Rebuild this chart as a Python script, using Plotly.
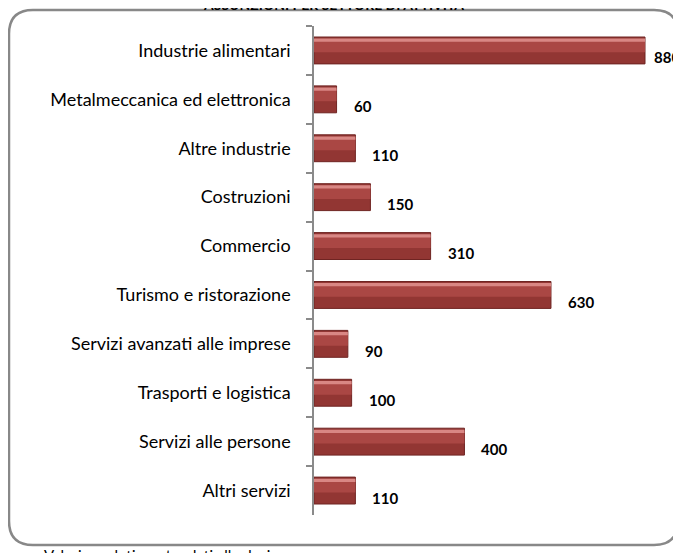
import plotly.graph_objects as go

categories = [
    "Industrie alimentari",
    "Metalmeccanica ed elettronica",
    "Altre industrie",
    "Costruzioni",
    "Commercio",
    "Turismo e ristorazione",
    "Servizi avanzati alle imprese",
    "Trasporti e logistica",
    "Servizi alle persone",
    "Altri servizi",
]
values = [880, 60, 110, 150, 310, 630, 90, 100, 400, 110]
title_text = "ASSUNZIONI PER SETTORE DI ATTIVITÀ"
note_text = "Valori assoluti arrotondati alle decine"

# the page body has an 8px margin, so the figure is laid out in (page - 8) pixels
W, H = 673, 545
ML, MR, MT, MB = 306, 21, 18, 38
pw, ph = W - ML - MR, H - MT - MB
FONT = "Lato, Open Sans, sans-serif"
SCALE = 331 / 880  # px per unit


def px_x(x):
    return (x - ML) / pw


def px_y(y):
    return (H - MB - y) / ph


fig = go.Figure()
bw = 0.55
fig.add_trace(go.Bar(
    y=categories, x=values, orientation="h", width=bw, offset=-bw / 2,
    marker=dict(color="#923633", line=dict(color="#6f2422", width=1)),
    hoverinfo="x+y",
))
fig.add_trace(go.Bar(
    y=categories, x=values, orientation="h", width=bw * 0.45, offset=-bw / 2 + bw * 0.12,
    marker=dict(color="#aa4744", line=dict(width=0)),
    hoverinfo="skip",
))
fig.add_trace(go.Bar(
    y=categories, x=values, orientation="h", width=bw * 0.12, offset=-bw / 2 + bw * 0.06,
    marker=dict(color="#d98784", line=dict(width=0)),
    hoverinfo="skip",
))

annotations = []
for c, v in zip(categories, values):
    bar_end = ML + v * SCALE
    shift = min(15, 672 - 28 - bar_end)
    annotations.append(dict(
        x=v, y=c, xref="x", yref="y", text=f"<b>{v}</b>", showarrow=False,
        xanchor="left", yanchor="middle", xshift=shift, yshift=-7,
        font=dict(family=FONT, size=15, color="#000000"),
    ))
annotations.append(dict(
    x=px_x(325), y=px_y(7), xref="paper", yref="paper", text=f"<b>{title_text}</b>",
    showarrow=False, xanchor="center", yanchor="bottom",
    font=dict(family=FONT, size=14, color="#000000"),
))
annotations.append(dict(
    x=px_x(34), y=px_y(536), xref="paper", yref="paper", text=note_text,
    showarrow=False, xanchor="left", yanchor="top",
    font=dict(family=FONT, size=15, color="#000000"),
))

x0, x1, y0, y1 = px_x(1), px_x(670), px_y(537), px_y(2)
rx, ry = 24 / pw, 24 / ph
path = (
    f"M {x0 + rx},{y1} L {x1 - rx},{y1} Q {x1},{y1} {x1},{y1 - ry} "
    f"L {x1},{y0 + ry} Q {x1},{y0} {x1 - rx},{y0} "
    f"L {x0 + rx},{y0} Q {x0},{y0} {x0},{y0 + ry} "
    f"L {x0},{y1 - ry} Q {x0},{y1} {x0 + rx},{y1} Z"
)
shapes = [dict(type="path", xref="paper", yref="paper", path=path,
               line=dict(color="#888888", width=2.5), fillcolor="rgba(0,0,0,0)", layer="below")]

fig.update_layout(
    width=W, height=H,
    margin=dict(l=ML, r=MR, t=MT, b=MB),
    paper_bgcolor="white", plot_bgcolor="white",
    showlegend=False, barmode="overlay",
    annotations=annotations, shapes=shapes,
    xaxis=dict(range=[0, pw / SCALE], visible=False, fixedrange=True),
    yaxis=dict(
        categoryorder="array", categoryarray=categories, autorange="reversed",
        showline=True, linecolor="#8a8a8a", linewidth=1.5,
        ticks="outside", ticklen=6, tickcolor="#8a8a8a", tickwidth=1.5,
        tickson="boundaries", ticklabelstandoff=18,
        tickfont=dict(family=FONT, size=18, color="#000000"),
        showgrid=False, zeroline=False, fixedrange=True,
    ),
)

fig.write_html("out.html")
